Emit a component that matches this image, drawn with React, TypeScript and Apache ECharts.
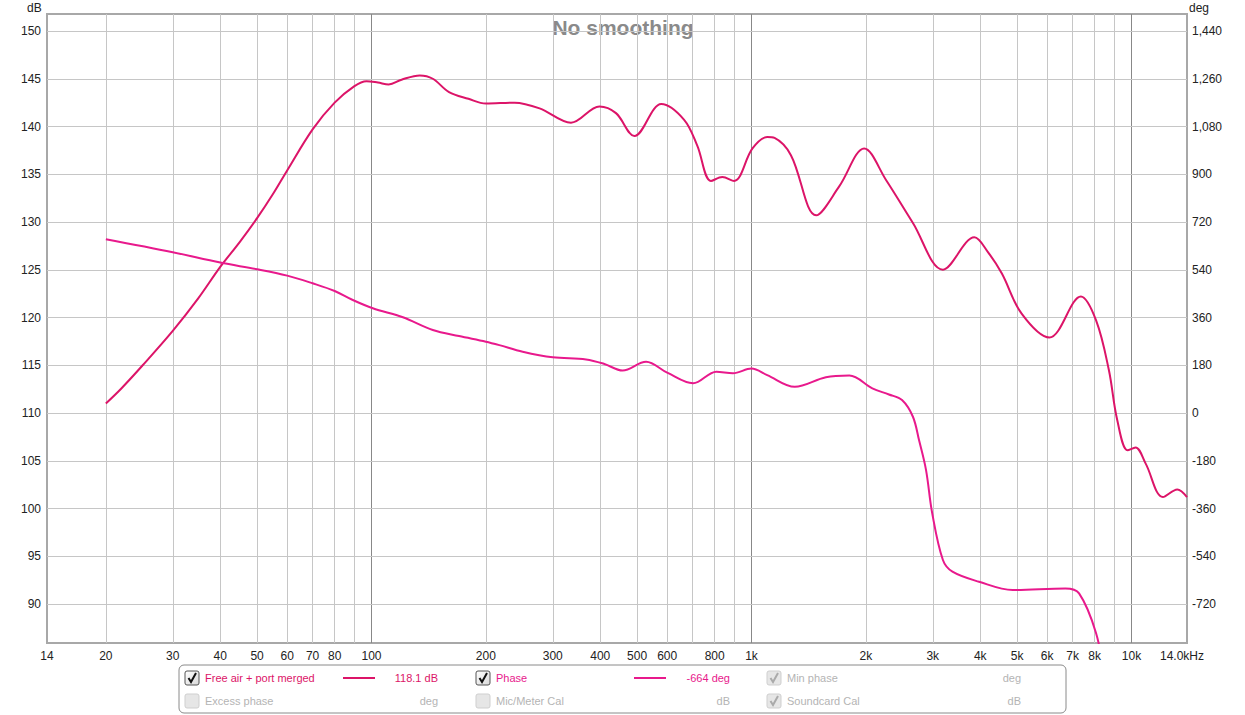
import React, { useEffect, useRef } from "react";
import * as echarts from "echarts";

// SPL curve "Free air + port merged" (Hz, dB)
const splFreq = [20, 22, 25, 30, 35, 40, 45, 50, 55, 60, 70, 80, 90, 97, 104, 111, 120, 134, 145, 160, 180, 200, 238, 277, 335, 398, 440, 492, 579, 665, 720, 782, 838, 900, 1006, 1100, 1150, 1270, 1480, 1700, 1980, 2260, 2660, 3190, 3860, 4200, 4560, 5140, 6080, 7360, 8070, 8720, 9170, 9770, 10250, 10900, 12100, 13200, 14000];
const splDb = [111.0, 112.6, 115.0, 118.6, 122.0, 125.3, 127.9, 130.4, 132.9, 135.4, 139.7, 142.5, 144.2, 144.75, 144.6, 144.4, 144.9, 145.35, 145.0, 143.6, 142.9, 142.4, 142.5, 141.9, 140.4, 142.1, 141.4, 139.0, 142.35, 140.7, 138.0, 134.3, 134.7, 134.3, 137.7, 138.9, 138.8, 137.0, 130.7, 133.7, 137.7, 134.4, 129.9, 125.0, 128.4, 126.8, 124.6, 120.4, 117.9, 122.2, 119.7, 114.5, 109.3, 106.1, 106.4, 104.7, 101.2, 102.0, 101.2];

// Phase curve (Hz, deg)
const phaseFreq = [20, 30, 40, 50, 60, 70, 80, 89.3, 100.8, 121, 145, 170, 200, 217, 250, 300, 367, 410, 458, 528, 600, 702, 808, 894, 1000, 1100, 1300, 1570, 1810, 2080, 2300, 2490, 2660, 2760, 2880, 2990, 3190, 3380, 3970, 4870, 6700, 7280, 8070, 8500];
const phaseDeg = [655, 606, 567, 542, 518, 489, 460, 426, 395, 361, 313, 290, 269, 256, 231, 210, 202, 185, 160, 193, 152, 112, 156, 150, 168, 143, 99, 135, 141, 93, 70, 49, -14, -102, -215, -378, -554, -598, -636, -667, -661, -680, -830, -1000];

// Axis ticks
const xTickValues = [14, 20, 30, 40, 50, 60, 70, 80, 100, 200, 300, 400, 500, 600, 800, 1000, 2000, 3000, 4000, 5000, 6000, 7000, 8000, 10000, 14000];
const xGridMinor = [20, 30, 40, 50, 60, 70, 80, 90, 200, 300, 400, 500, 600, 700, 800, 900, 2000, 3000, 4000, 5000, 6000, 7000, 8000, 9000];
const xGridMajor = [100, 1000, 10000];
const dbTicks = [90, 95, 100, 105, 110, 115, 120, 125, 130, 135, 140, 145, 150];
const degTicks = [-720, -540, -360, -180, 0, 180, 360, 540, 720, 900, 1080, 1260, 1440];

// Legend content
const legendRow1 = { name: "Free air + port merged", value: "118.1 dB", name2: "Phase", value2: "-664 deg", name3: "Min phase", unit3: "deg" };
const legendRow2 = { name: "Excess phase", unit: "deg", name2: "Mic/Meter Cal", unit2: "dB", name3: "Soundcard Cal", unit3: "dB" };

const SPL_COLOR = "#dc1468";
const PHASE_COLOR = "#e8198c";
const FONT = '"Liberation Sans", Arial, sans-serif';

function txt(text: string, x: number, y: number, fill: string, align = "left", font = `11px ${FONT}`) {
  return {
    type: "text",
    silent: true,
    style: { text, x, y, fill, font, align, verticalAlign: "middle", textAlign: align, textVerticalAlign: "middle" },
  };
}

function checkbox(x: number, y: number, checked: boolean, enabled: boolean) {
  const children: any[] = [
    {
      type: "rect",
      shape: { x, y, width: 14, height: 14, r: 2 },
      style: {
        fill: enabled
          ? new echarts.graphic.LinearGradient(0, 0, 1, 1, [
              { offset: 0, color: "#ffffff" },
              { offset: 1, color: "#d8d8d8" },
            ])
          : "#e6e6e6",
        stroke: enabled ? "#555" : "#cfcfcf",
        lineWidth: 1,
      },
    },
  ];
  if (checked) {
    children.push({
      type: "polyline",
      shape: { points: [[x + 3.5, y + 7], [x + 6, y + 11], [x + 11, y + 2]] },
      style: { stroke: enabled ? "#111" : "#aaa", lineWidth: 2, fill: null },
    });
  }
  return { type: "group", silent: true, children };
}

export default function App() {
  const ref = useRef<HTMLDivElement>(null);

  useEffect(() => {
    if (!ref.current) return;
    const chart = echarts.init(ref.current, null, { renderer: "svg" });

    const gridLineData: any[] = [
      ...xGridMinor.map((v) => ({ xAxis: v, lineStyle: { color: "#c6c6c6", width: 1, type: "solid" } })),
      ...xGridMajor.map((v) => ({ xAxis: v, lineStyle: { color: "#888888", width: 1, type: "solid" } })),
      ...dbTicks.map((v) => ({ yAxis: v, lineStyle: { color: "#c6c6c6", width: 1, type: "solid" } })),
    ];

    const r1 = 678;
    const r2 = 701;
    const gray = "#b4b4b4";

    const option: any = {
      animation: false,
      backgroundColor: "#ffffff",
      grid: {
        left: 47,
        right: 58,
        top: 14,
        bottom: 72,
        show: true,
        borderColor: "#a8a8a8",
        borderWidth: 2,
        backgroundColor: "#ffffff",
      },
      xAxis: {
        type: "log",
        logBase: 10,
        min: 14,
        max: 14000,
        axisLine: { show: false },
        axisTick: { show: false },
        splitLine: { show: false },
        axisLabel: {
          customValues: xTickValues,
          color: "#222",
          fontSize: 12,
          fontFamily: FONT,
          margin: 7,
          showMinLabel: true,
          showMaxLabel: true,
          rich: { last: { color: "#222", fontSize: 12, fontFamily: FONT, padding: [0, 10, 0, 0] } },
          formatter: (v: number) => {
            const n = Math.round(v);
            if (n === 14000) return "{last|14.0kHz}";
            if (n >= 1000) return `${n / 1000}k`;
            return String(n);
          },
        },
      },
      yAxis: [
        {
          type: "value",
          position: "left",
          min: 85.92,
          max: 151.78,
          axisLine: { show: false },
          axisTick: { show: false },
          splitLine: { show: false },
          axisLabel: { customValues: dbTicks, color: "#222", fontSize: 12, fontFamily: FONT, margin: 6 },
        },
        {
          type: "value",
          position: "right",
          min: -866.9,
          max: 1504.1,
          axisLine: { show: false },
          axisTick: { show: false },
          splitLine: { show: false },
          axisLabel: {
            customValues: degTicks,
            color: "#222",
            fontSize: 12,
            fontFamily: FONT,
            margin: 5,
            formatter: (v: number) => Math.round(v).toLocaleString("en-US"),
          },
        },
      ],
      series: [
        {
          type: "line",
          name: "grid",
          data: [[14, 120], [14000, 120]],
          symbol: "none",
          silent: true,
          lineStyle: { opacity: 0 },
          z: 1,
          markLine: {
            silent: true,
            symbol: ["none", "none"],
            label: { show: false },
            emphasis: { disabled: true },
            data: gridLineData,
          },
        },
        {
          type: "line",
          name: legendRow1.name,
          yAxisIndex: 0,
          data: splFreq.map((f, i) => [f, splDb[i]]),
          symbol: "none",
          smooth: 0.35,
          clip: true,
          lineStyle: { color: SPL_COLOR, width: 2 },
          z: 10,
        },
        {
          type: "line",
          name: legendRow1.name2,
          yAxisIndex: 1,
          data: phaseFreq.map((f, i) => [f, phaseDeg[i]]),
          symbol: "none",
          smooth: 0.35,
          clip: true,
          lineStyle: { color: PHASE_COLOR, width: 2 },
          z: 10,
        },
      ],
      graphic: [
        txt("No smoothing", 623, 27, "#8a8a8a", "center", `bold 21px ${FONT}`),
        txt("dB", 27, 8, "#222", "left", `12px ${FONT}`),
        txt("deg", 1189, 8, "#222", "left", `12px ${FONT}`),
        {
          type: "rect",
          silent: true,
          shape: { x: 179, y: 665, width: 887, height: 48, r: 5 },
          style: { fill: "#ffffff", stroke: "#8a8a8a", lineWidth: 1 },
        },
        checkbox(185, r1 - 7, true, true),
        txt(legendRow1.name, 205, r1, SPL_COLOR),
        { type: "line", silent: true, shape: { x1: 343, y1: r1, x2: 375, y2: r1 }, style: { stroke: SPL_COLOR, lineWidth: 2 } },
        txt(legendRow1.value, 438, r1, SPL_COLOR, "right"),
        checkbox(476, r1 - 7, true, true),
        txt(legendRow1.name2, 496, r1, PHASE_COLOR),
        { type: "line", silent: true, shape: { x1: 634, y1: r1, x2: 666, y2: r1 }, style: { stroke: PHASE_COLOR, lineWidth: 2 } },
        txt(legendRow1.value2, 730, r1, PHASE_COLOR, "right"),
        checkbox(767, r1 - 7, true, false),
        txt(legendRow1.name3, 787, r1, gray),
        txt(legendRow1.unit3, 1021, r1, gray, "right"),
        checkbox(185, r2 - 7, false, false),
        txt(legendRow2.name, 205, r2, gray),
        txt(legendRow2.unit, 438, r2, gray, "right"),
        checkbox(476, r2 - 7, false, false),
        txt(legendRow2.name2, 496, r2, gray),
        txt(legendRow2.unit2, 730, r2, gray, "right"),
        checkbox(767, r2 - 7, true, false),
        txt(legendRow2.name3, 787, r2, gray),
        txt(legendRow2.unit3, 1021, r2, gray, "right"),
      ],
    };

    chart.setOption(option);
    return () => chart.dispose();
  }, []);

  return <div ref={ref} style={{ position: "fixed", left: 0, top: 0, width: "1245px", height: "715px" }} />;
}
